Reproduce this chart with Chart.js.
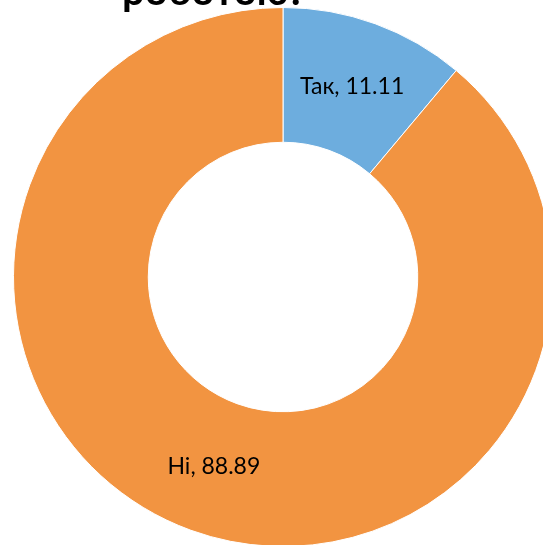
<!DOCTYPE html>
<html>
<head>
<meta charset="utf-8">
<script src="https://cdn.jsdelivr.net/npm/chart.js@4"></script>
<style>
html,body{margin:0;padding:0;overflow:hidden;background:#fff;width:543px;height:545px;}
#wrap{position:absolute;left:0;top:-24px;width:566px;height:571px;}
</style>
</head>
<body>
<div id="wrap"><canvas id="c"></canvas></div>
<script>
const categories = ["Так", "Ні"];
const values = [11.11, 88.89];
const colors = ["#6DADDE", "#F29441"];
const titleText = "роботою?";

const titlePlugin = {
  id: 'cutTitle',
  afterDraw(chart) {
    const ctx = chart.ctx;
    ctx.save();
    ctx.font = 'bold 40px Lato';
    ctx.fillStyle = '#000';
    ctx.textAlign = 'center';
    ctx.textBaseline = 'alphabetic';
    ctx.fillText(titleText, 214, 29);
    ctx.restore();
  }
};

const labelPlugin = {
  id: 'sliceLabels',
  afterDatasetsDraw(chart) {
    const ctx = chart.ctx;
    const meta = chart.getDatasetMeta(0);
    ctx.save();
    ctx.font = '23px Lato';
    ctx.fillStyle = '#000';
    ctx.textAlign = 'center';
    ctx.textBaseline = 'middle';
    meta.data.forEach((arc, i) => {
      const p = arc.tooltipPosition();
      ctx.fillText(categories[i] + ', ' + values[i].toFixed(2), p.x, p.y);
    });
    ctx.restore();
  }
};

new Chart(document.getElementById('c'), {
  type: 'doughnut',
  data: {
    labels: categories,
    datasets: [{
      data: values,
      backgroundColor: colors,
      borderColor: '#ffffff',
      borderWidth: 1
    }]
  },
  options: {
    responsive: true,
    maintainAspectRatio: false,
    animation: false,
    cutout: '50%',
    layout: { padding: { top: 31, left: 0, right: 0, bottom: 0 } },
    plugins: {
      legend: { display: false },
      tooltip: { enabled: false },
      title: { display: false }
    }
  },
  plugins: [titlePlugin, labelPlugin]
});
</script>
</body>
</html>
